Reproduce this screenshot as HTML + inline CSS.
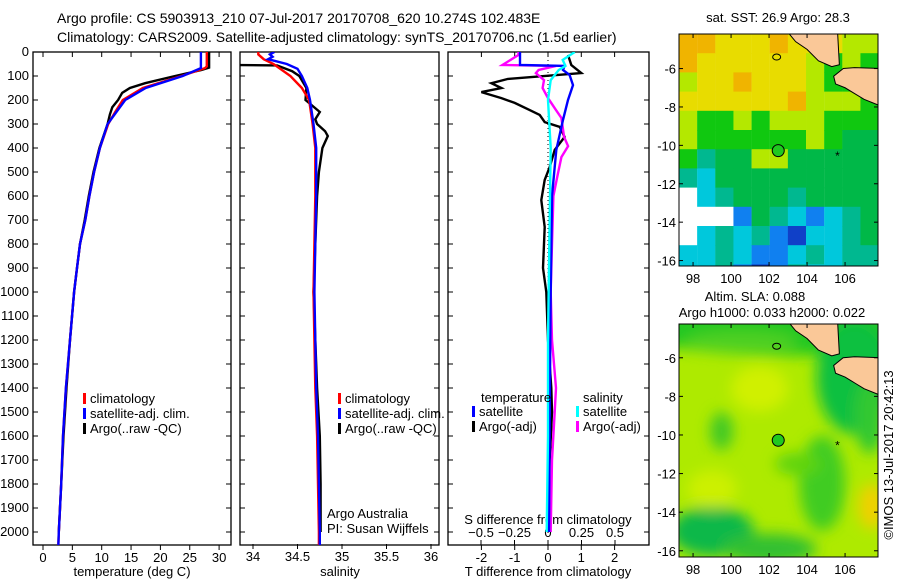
<!DOCTYPE html>
<html><head><meta charset="utf-8"><title>Argo profile</title>
<style>
html,body{margin:0;padding:0;background:#fff;}
svg text{font-family:"Liberation Sans",sans-serif;font-size:12px;fill:#000;}
svg text.big{font-size:13px;}
</style></head>
<body>
<svg id="chart" width="900" height="580" viewBox="0 0 900 580" xmlns="http://www.w3.org/2000/svg">
<defs>
<clipPath id="clipT"><rect x="33" y="52" width="198" height="493"/></clipPath>
<clipPath id="clipS"><rect x="240" y="52" width="199" height="493"/></clipPath>
<clipPath id="clipD"><rect x="448" y="52" width="201" height="493"/></clipPath>
<clipPath id="clipM1"><rect x="679" y="34" width="199" height="232"/></clipPath>
<clipPath id="clipM2"><rect x="679" y="324" width="199" height="233"/></clipPath>
<filter id="blur" x="-20%" y="-20%" width="140%" height="140%"><feGaussianBlur stdDeviation="7"/></filter>
</defs>
<text x="57" y="23" style="font-size:14px">Argo profile: CS 5903913_210 07-Jul-2017 20170708_620 10.274S 102.483E</text>
<text x="57" y="42" style="font-size:14px">Climatology: CARS2009. Satellite-adjusted climatology: synTS_20170706.nc (1.5d earlier)</text>
<g id="g1"></g>
<g id="g2"></g>
<g id="g3"></g>
<g id="m1"></g>
<g id="m2"></g>
<text class="big" transform="translate(893,455) rotate(-90)" text-anchor="middle">©IMOS 13-Jul-2017 20:42:13</text>
</svg>
<script>
// ---- depth axis ----
const depthTicks = [0,100,200,300,400,500,600,700,800,900,1000,1100,1200,1300,1400,1500,1600,1700,1800,1900,2000];
// ---- temperature profiles (depth, degC) ----
const tClimDepth = [0,60,67,100,150,200,250,300,400,500,600,700,800,900,1000,1200,1400,1600,1800,2000,2060];
const tClimVal   = [27.9,27.9,27.6,23.6,17.0,13.6,12.3,11.1,9.7,8.7,7.9,7.2,6.3,5.8,5.3,4.6,3.9,3.4,3.1,2.7,2.6];
const tSatDepth  = [0,60,67,100,150,200,250,300,400,500,600,700,800,900,1000,1200,1400,1600,1800,2000,2060];
const tSatVal    = [26.9,26.9,26.9,23.8,17.5,14.0,12.5,11.0,9.7,8.7,7.9,7.2,6.3,5.8,5.3,4.6,3.9,3.4,3.1,2.7,2.6];
const tArgoDepth = [0,65,75,100,130,150,170,200,230,260,300,400,500,600,700,800,900,1000,1200,1400,1600,1800,2000];
const tArgoVal   = [28.3,28.3,27.0,22.5,17.4,14.8,13.5,12.8,11.8,11.4,11.0,9.6,8.6,7.8,7.1,6.3,5.8,5.3,4.6,4.0,3.5,3.1,2.7];
// ---- salinity profiles ----
const sClimDepth = [0,10,30,50,100,150,200,300,400,600,800,1000,1200,1400,1600,1800,2000,2060];
const sClimVal   = [34.06,34.06,34.12,34.23,34.42,34.55,34.63,34.67,34.70,34.70,34.69,34.68,34.69,34.70,34.72,34.73,34.74,34.74];
const sSatDepth  = [0,10,20,30,50,70,100,150,200,300,400,600,800,1000,1200,1400,1600,1800,2000,2060];
const sSatVal    = [34.24,34.19,34.22,34.17,34.38,34.50,34.55,34.61,34.64,34.68,34.71,34.71,34.70,34.69,34.70,34.71,34.73,34.74,34.75,34.75];
const sArgoDepth = [0,54,56,80,100,150,200,250,280,300,330,350,400,500,600,800,1000,1200,1400,1600,1800,2000];
const sArgoVal   = [33.75,33.75,34.27,34.44,34.52,34.60,34.59,34.75,34.70,34.72,34.81,34.84,34.78,34.74,34.72,34.70,34.68,34.70,34.72,34.75,34.76,34.76];
// ---- differences ----
const dTArgoDepth = [12,54,88,112,130,150,167,192,212,242,262,292,312,354,408,479,533,617,729,900,1000,1200,1400,1500,1700,2000];
const dTArgoVal   = [0.6,0.7,1.0,-1.2,-1.7,-1.4,-2.0,-1.4,-1.0,-0.55,-0.25,-0.1,0.35,0.5,0.2,0.05,-0.1,-0.2,-0.1,-0.15,-0.05,0.0,0.1,0.12,0.05,0.0];
const dSArgoDepth = [0,12,54,58,75,88,117,150,192,242,275,354,392,438,517,600,800,1000,1200,1400,1500,1700,2000];
const dSArgoVal   = [-0.22,-0.22,-0.34,0.06,-0.07,-0.09,-0.03,-0.04,0.0,0.06,0.1,0.12,0.15,0.1,0.07,0.04,0.03,0.02,0.03,0.06,0.05,0.03,0.02];
const dTSatDepth  = [0,54,58,75,96,138,200,283,408,600,1000,1500,2000];
const dTSatVal    = [-0.84,-0.84,0.5,0.45,0.65,0.75,0.6,0.45,0.25,0.12,0.08,0.05,0.03];
const dSSatDepth  = [0,33,58,75,117,200,400,800,1200,1600,2000];
const dSSatVal    = [0.2,0.11,0.13,0.08,0.02,0.0,0.02,0.01,0.0,0.0,-0.01];
// ---- axis ticks ----
const tTicks = [0,5,10,15,20,25,30];
const sTicks = [34,34.5,35,35.5,36];
const dTTicks = [-2,-1,0,1,2];
const dSTicks = [-0.5,-0.25,0,0.25,0.5];
const latTicks = [-6,-8,-10,-12,-14,-16];
const lonTicks = [98,100,102,104,106];
// ---- SST map coarse grid (rows from -4.2 southward, 1 deg; cols 11 from 97.26) ----
const sstRows = [
 "ooyyyoyyyll","oyyyyyylglg","lyyoyyylggl","yyyyyyolllg","lgglglllggg",
 "lgggggglgGG","gtGGllGGGGG","tcGGGGGGGGG","wctGGGtGGGG","wwwbGtcbctG",
 "wctctbdcctG","cctcbbctctt","cctbdbtcctt"];
const sstColors = {o:"#f0b400",y:"#e8dc00",l:"#b4e800",g:"#10c810",G:"#00b848",t:"#00b890",c:"#00c8dc",b:"#1080f0",d:"#1040c8",w:"#ffffff"};
const argoLon = 102.483, argoLat = -10.274;

const NS = "http://www.w3.org/2000/svg";
function el(parent, tag, attrs){const e=document.createElementNS(NS,tag);for(const k in attrs)e.setAttribute(k,attrs[k]);parent.appendChild(e);return e;}
const yD = d => 52 + d*0.24;
function frame(g,x0,x1){
  const r=el(g,'rect',{x:x0,y:52,width:x1-x0,height:493,fill:'none',stroke:'#000','stroke-width':1.3});
  
  
  depthTicks.forEach(d=>{el(g,'line',{x1:x0,x2:x0+5,y1:yD(d),y2:yD(d),stroke:'#000'});el(g,'line',{x1:x1,x2:x1-5,y1:yD(d),y2:yD(d),stroke:'#000'});});
}
function xTicks(g,ticks,fx,yb,labels,up){
  ticks.forEach((t,i)=>{const x=fx(t);
    el(g,'line',{x1:x,x2:x,y1:yb,y2:yb+(up?-5:5),stroke:'#000'});
    if(labels){const tx=el(g,'text',{x:x,y:yb+(up?-7:17),'text-anchor':'middle',class:'big'});tx.textContent=labels[i];
      
      }
  });
}
function line(g,ds,vs,fx,color,w,clip,name){
  const p=ds.map((d,i)=>(i?'L':'M')+fx(vs[i]).toFixed(1)+','+yD(d).toFixed(1)).join(' ');
  const e=el(g,'path',{d:p,fill:'none',stroke:color,'stroke-width':w,'clip-path':'url(#'+clip+')','stroke-linejoin':'miter'});
  
  
}
function txt(g,x,y,s,anchor,name,cls){const t=el(g,'text',{x:x,y:y,'text-anchor':anchor||'start'});t.textContent=s;
  if(cls)t.setAttribute('class',cls);
  
  return t;}
function legend(g,x,y,color,s){el(g,'rect',{x:x,y:y-10,width:3,height:11,fill:color});txt(g,x+7,y,s,'start','legend-entry','big');}

// Panel 1
const g1=document.getElementById('g1');
const fT=t=>43+t*5.87;
frame(g1,33,231);
depthTicks.forEach(d=>txt(g1,29,yD(d)+4,String(d),'end','y-tick-label','big'));
xTicks(g1,tTicks,fT,545,tTicks.map(String));
xTicks(g1,tTicks,fT,52,null,false);
line(g1,tArgoDepth,tArgoVal,fT,'#000',2.4,'clipT','argo-temperature-line');
line(g1,tClimDepth,tClimVal,fT,'#f00',2.4,'clipT','climatology-temperature-line');
line(g1,tSatDepth,tSatVal,fT,'#00f',2.4,'clipT','satellite-temperature-line');
legend(g1,83,403,'#f00','climatology');legend(g1,83,418,'#00f','satellite-adj. clim.');legend(g1,83,433,'#000','Argo(..raw -QC)');
txt(g1,132,576,'temperature (deg C)','middle','x-axis-title','big');

// Panel 2
const g2=document.getElementById('g2');
const fS=s=>342+(s-35)*89;
frame(g2,240,439);
xTicks(g2,sTicks,fS,544,sTicks.map(String));
line(g2,sArgoDepth,sArgoVal,fS,'#000',2.4,'clipS','argo-salinity-line');
line(g2,sClimDepth,sClimVal,fS,'#f00',2.4,'clipS','climatology-salinity-line');
line(g2,sSatDepth,sSatVal,fS,'#00f',2.4,'clipS','satellite-salinity-line');
legend(g2,338,403,'#f00','climatology');legend(g2,338,418,'#00f','satellite-adj. clim.');legend(g2,338,433,'#000','Argo(..raw -QC)');
txt(g2,327,518,'Argo Australia','start','credit-text','big');txt(g2,327,533,'PI: Susan Wijffels','start','credit-text','big');
txt(g2,340,576,'salinity','middle','x-axis-title','big');

// Panel 3
const g3=document.getElementById('g3');
const fDT=t=>548+t*33.3, fDS=s=>548+s*134;
frame(g3,448,649);
el(g3,'line',{x1:548,x2:548,y1:52,y2:545,stroke:'#000','stroke-dasharray':'1 3'});
xTicks(g3,dTTicks,fDT,545,dTTicks.map(String));
xTicks(g3,dSTicks,fDS,545,null,true);
xTicks(g3,dTTicks,fDT,52,null,false);
dSTicks.forEach(s=>txt(g3,fDS(s),537,String(s).replace('-','−'),'middle','s-tick-label','big'));
txt(g3,548,524,'S difference from climatology','middle','s-axis-title','big');
line(g3,dTArgoDepth,dTArgoVal,fDT,'#000',2.4,'clipD','argo-temp-diff-line');
line(g3,dSArgoDepth,dSArgoVal,fDS,'#f0f',2.4,'clipD','argo-sal-diff-line');
line(g3,dTSatDepth,dTSatVal,fDT,'#00f',2.4,'clipD','sat-temp-diff-line');
line(g3,dSSatDepth,dSSatVal,fDS,'#0ff',2.4,'clipD','sat-sal-diff-line');
txt(g3,481,402,'temperature','start','legend-title','big');txt(g3,583,402,'salinity','start','legend-title','big');
legend(g3,472,416,'#00f','satellite');legend(g3,472,431,'#000','Argo(-adj)');
legend(g3,576,416,'#0ff','satellite');legend(g3,576,431,'#f0f','Argo(-adj)');
txt(g3,548,576,'T difference from climatology','middle','x-axis-title','big');

// Maps
function mapAxes(g,y0,y1,latPx,lat0){
  const fx=lon=>679+(lon-97.26)*19.0, fy=lat=>y0+(lat0-lat)*latPx;
  return {fx,fy};
}
function mapFrame(g,y0,y1,fx,fy){
  const r=el(g,'rect',{x:679,y:y0,width:199,height:y1-y0,fill:'none',stroke:'#000','stroke-width':1});
  
  
  latTicks.forEach(l=>{const y=fy(l);el(g,'line',{x1:679,x2:683,y1:y,y2:y,stroke:'#000'});el(g,'line',{x1:878,x2:874,y1:y,y2:y,stroke:'#000'});
    txt(g,676,y+5,String(l),'end','lat-tick-label').style.fontSize='13px';});
  lonTicks.forEach(l=>{const x=fx(l);el(g,'line',{x1:x,x2:x,y1:y0,y2:y0+4,stroke:'#000'});el(g,'line',{x1:x,x2:x,y1:y1,y2:y1-4,stroke:'#000'});
    txt(g,x,y1+17,String(l),'middle','lon-tick-label').style.fontSize='13px';});
}
function land(g,fx,fy,clip){
  const sum=[[102.9,-4.0],[105.6,-4.0],[105.7,-5.8],[105.3,-5.9],[104.6,-5.6],[104.0,-5.0],[103.4,-4.6]];
  const jav=[[105.9,-6.0],[106.5,-5.95],[108,-6.0],[108,-8.0],[107,-7.6],[106.5,-7.3],[106,-7.0],[105.5,-6.8],[105.4,-6.4]];
  [sum,jav].forEach(poly=>{const e=el(g,'polygon',{points:poly.map(p=>fx(p[0])+','+fy(p[1])).join(' '),fill:'#fac898',stroke:'#000','stroke-width':1,'clip-path':'url(#'+clip+')'});
    
    });
  el(g,'ellipse',{cx:fx(102.4),cy:fy(-5.4),rx:4,ry:3,fill:'none',stroke:'#000'});
  const c=el(g,'circle',{cx:fx(argoLon),cy:fy(argoLat),r:6,fill:'#20c820',stroke:'#000','stroke-width':1});
  
  
  txt(g,fx(105.6),fy(-10.5)+5,'*','middle','star-marker');
}
const m1=document.getElementById('m1');
const A1=mapAxes(m1,34,266,19.2,-4.2);
sstRows.forEach((row,r)=>{[...row].forEach((ch,c)=>{
  const e=el(m1,'rect',{x:A1.fx(97.26+c*0.955),y:A1.fy(-4.2-r),width:18.3,height:19.8,fill:sstColors[ch],'clip-path':'url(#clipM1)'});
  
  
});});
land(m1,A1.fx,A1.fy,'clipM1');
mapFrame(m1,34,266,A1.fx,A1.fy);
txt(m1,778,22,'sat. SST: 26.9 Argo: 28.3','middle','sst-map-title','big');

const m2=document.getElementById('m2');
const A2=mapAxes(m2,324,557,19.3,-4.25);
const bg=el(m2,'rect',{x:679,y:324,width:199,height:233,fill:'#aeea00'});


const blobs=[[103,-4.6,8,1.3,'#20c820'],[106.5,-7,2,3,'#10c040'],[107.3,-9,0.8,2,'#30c830'],[99,-15,2.2,1.3,'#10b848'],[102,-15.9,2.5,0.8,'#30c030'],
 [104.8,-12.5,1.2,2.5,'#40cc20'],[103.5,-11.5,1.2,0.6,'#60d410'],[99.5,-9.8,0.6,1.0,'#40c828'],[101.5,-7.6,1.5,1.2,'#d0f000'],
 [99,-12.8,1.3,1.0,'#ccf000'],[107.4,-13.7,0.7,1.2,'#f0d000'],[100.5,-5.2,3,0.6,'#50d020']];
const gb=el(m2,'g',{filter:'url(#blur)','clip-path':'url(#clipM2)'});
blobs.forEach(b=>{const e=el(gb,'ellipse',{cx:A2.fx(b[0]),cy:A2.fy(b[1]),rx:b[2]*19,ry:b[3]*19,fill:b[4]});
  
  });
land(m2,A2.fx,A2.fy,'clipM2');
mapFrame(m2,324,557,A2.fx,A2.fy);
txt(m2,755,301,'Altim. SLA: 0.088','middle','sla-map-title','big');
txt(m2,772,317,'Argo h1000: 0.033 h2000: 0.022','middle','sla-map-subtitle','big');
</script>
</body></html>
